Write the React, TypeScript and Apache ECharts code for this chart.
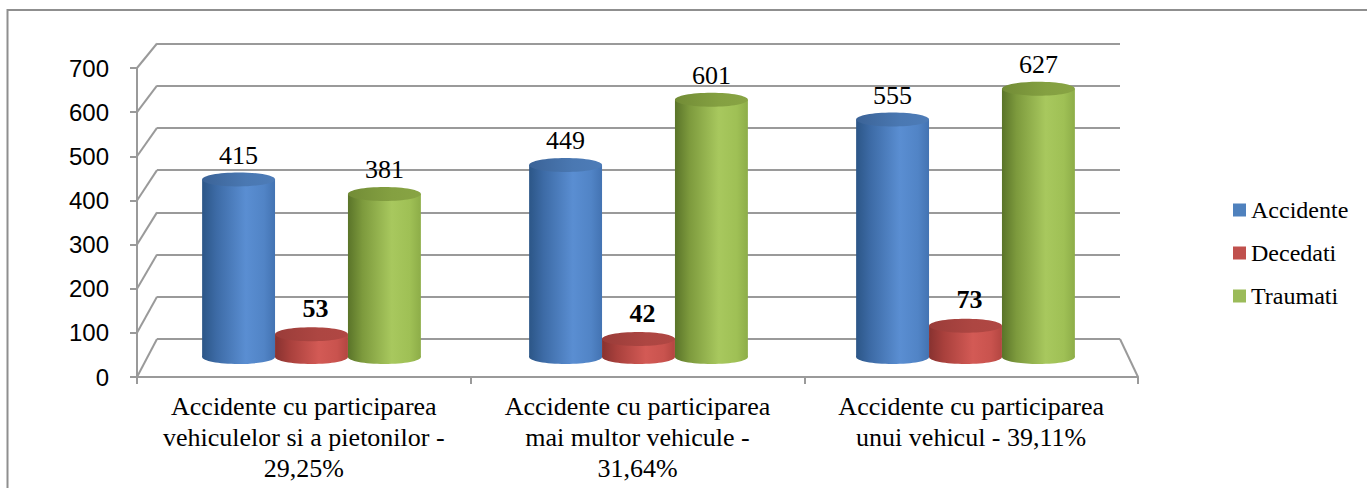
import React, { useEffect, useRef } from "react";
import * as echarts from "echarts";

const categories = [
  "Accidente cu participarea\nvehiculelor si a pietonilor -\n29,25%",
  "Accidente cu participarea\nmai multor vehicule -\n31,64%",
  "Accidente cu participarea\nunui vehicul - 39,11%",
];
const seriesNames = ["Accidente", "Decedati", "Traumati"];
const accidente = [415, 449, 555];
const decedati = [53, 42, 73];
const traumati = [381, 601, 627];
const yTicks = [0, 100, 200, 300, 400, 500, 600, 700];

const W = 1367;
const H = 488;
const FRONT = { left: 137, right: W - 1138, top: 68, bottom: H - 377 };
const BACK = { left: 157, right: W - 1120, top: 43.5, bottom: H - 339 };
const MID = { left: 148, right: W - 1129, top: 57.5, bottom: H - 357 };
const Y_MAX = 700;
const FRAME = "#9a9a9a";
const SERIF = "Liberation Serif";
const SANS = "Liberation Sans";

const palette = [
  {
    legend: "#4f81bd",
    body: [
      [0, "#2c5687"],
      [0.2, "#3d6ba6"],
      [0.6, "#5a8ed2"],
      [0.85, "#5184c6"],
      [1, "#4373b2"],
    ],
    top: [
      [0, "#3b6397"],
      [0.6, "#4a78b2"],
      [1, "#4d7cb8"],
    ],
    bold: false,
  },
  {
    legend: "#c0504d",
    body: [
      [0, "#883230"],
      [0.2, "#a8403c"],
      [0.6, "#d35a55"],
      [0.85, "#c9534e"],
      [1, "#b34641"],
    ],
    top: [
      [0, "#9a3c39"],
      [0.6, "#ad4642"],
      [1, "#b04743"],
    ],
    bold: true,
  },
  {
    legend: "#9bbb59",
    body: [
      [0, "#5a7429"],
      [0.2, "#7d9a3d"],
      [0.6, "#a8c85e"],
      [0.85, "#9fc055"],
      [1, "#8dad48"],
    ],
    top: [
      [0, "#728c36"],
      [0.6, "#84a041"],
      [1, "#88a444"],
    ],
    bold: false,
  },
];

const grad = (stops: any[]) =>
  new echarts.graphic.LinearGradient(
    0,
    0,
    1,
    0,
    stops.map((s) => ({ offset: s[0], color: s[1] }))
  );

function cylinderSeries(name: string, values: number[], idx: number) {
  const p = palette[idx];
  return {
    name,
    type: "custom",
    xAxisIndex: 2,
    yAxisIndex: 2,
    itemStyle: { color: p.legend },
    clip: false,
    z: 5,
    data: values.map((v, i) => [i, v]),
    renderItem: (params: any, api: any) => {
      const i = api.value(0);
      const v = api.value(1);
      const top = api.coord([i, v]);
      const base = api.coord([i, 0]);
      const band = api.size([1, 0])[0];
      const w = band * 0.223;
      const cx = top[0] + (idx - 1) * w;
      const ry = 7;
      return {
        type: "group",
        children: [
          {
            type: "ellipse",
            shape: { cx, cy: base[1], rx: w / 2, ry },
            style: { fill: grad(p.body) },
          },
          {
            type: "rect",
            shape: { x: cx - w / 2, y: top[1], width: w, height: base[1] - top[1] },
            style: { fill: grad(p.body) },
          },
          {
            type: "ellipse",
            shape: { cx, cy: top[1], rx: w / 2, ry },
            style: { fill: grad(p.top) },
          },
          {
            type: "text",
            x: cx + (p.bold ? 4 : 0),
            y: top[1] - ry - (p.bold ? 6 : 4),
            style: {
              text: String(v),
              fill: "#000",
              fontFamily: SERIF,
              fontSize: 26,
              fontWeight: p.bold ? "bold" : "normal",
              textAlign: "center",
              textVerticalAlign: "bottom",
            },
          },
        ],
      };
    },
  };
}

export default function App() {
  const ref = useRef<HTMLDivElement>(null);
  useEffect(() => {
    document.body.style.margin = "0";
    const chart = echarts.init(ref.current!, null, { renderer: "svg" });
    const backH = H - BACK.top - BACK.bottom;
    const option: any = {
      animation: false,
      backgroundColor: "#fff",
      graphic: [
        {
          type: "rect",
          shape: { x: 7.5, y: 10, width: 1500, height: 600 },
          style: { fill: "none", stroke: "#8f8f8f", lineWidth: 2 },
          silent: true,
        },
      ],
      legend: {
        orient: "vertical",
        left: 1228,
        top: 193,
        data: seriesNames,
        icon: "rect",
        itemWidth: 13,
        itemHeight: 13,
        itemGap: 19,
        textStyle: { fontFamily: SERIF, fontSize: 24, color: "#000", lineHeight: 24 },
        selectedMode: false,
      },
      grid: [
        { ...FRONT, containLabel: false },
        { ...BACK, containLabel: false },
        { ...MID, containLabel: false },
      ],
      xAxis: [
        {
          gridIndex: 0,
          type: "category",
          data: categories,
          axisLine: { show: true, lineStyle: { color: FRAME, width: 2 } },
          axisTick: { show: true, length: 7, lineStyle: { color: FRAME, width: 2 } },
          axisLabel: {
            interval: 0,
            fontFamily: SERIF,
            fontSize: 26,
            lineHeight: 31,
            color: "#000",
            margin: 14,
          },
          splitLine: { show: false },
        },
        { gridIndex: 1, type: "category", data: categories, show: false },
        { gridIndex: 2, type: "category", data: categories, show: false },
      ],
      yAxis: [
        {
          gridIndex: 0,
          type: "value",
          min: 0,
          max: Y_MAX,
          interval: 100,
          axisLine: { show: true, lineStyle: { color: FRAME, width: 2 } },
          axisTick: { show: true, length: 7, lineStyle: { color: FRAME, width: 2 } },
          axisLabel: { fontFamily: SANS, fontSize: 24, color: "#000", margin: 28 },
          splitLine: { show: false },
        },
        {
          gridIndex: 1,
          type: "value",
          min: 0,
          max: Y_MAX,
          interval: 100,
          axisLine: { show: false },
          axisTick: { show: false },
          axisLabel: { show: false },
          splitLine: { show: true, lineStyle: { color: FRAME, width: 2 } },
        },
        {
          gridIndex: 2,
          type: "value",
          min: 0,
          max: Y_MAX,
          interval: 100,
          show: false,
        },
      ],
      series: [
        {
          name: "frame",
          type: "custom",
          xAxisIndex: 0,
          yAxisIndex: 0,
          silent: true,
          clip: false,
          z: 1,
          data: yTicks.map((v) => [0, v]),
          renderItem: (params: any, api: any) => {
            const cs = params.coordSys;
            const v = api.value(1);
            const yF = api.coord([0, v])[1];
            const yB = BACK.top + backH * (1 - v / Y_MAX);
            const children: any[] = [
              {
                type: "line",
                shape: { x1: cs.x, y1: yF, x2: BACK.left, y2: yB },
                style: { stroke: FRAME, lineWidth: 2 },
              },
            ];
            if (v === 0) {
              children.push({
                type: "line",
                shape: { x1: cs.x + cs.width, y1: yF, x2: W - BACK.right, y2: yB },
                style: { stroke: FRAME, lineWidth: 2 },
              });
            }
            return { type: "group", children };
          },
        },
        cylinderSeries(seriesNames[0], accidente, 0),
        cylinderSeries(seriesNames[1], decedati, 1),
        cylinderSeries(seriesNames[2], traumati, 2),
      ],
    };
    chart.setOption(option);
    return () => chart.dispose();
  }, []);
  return <div ref={ref} style={{ width: W, height: H }} />;
}
